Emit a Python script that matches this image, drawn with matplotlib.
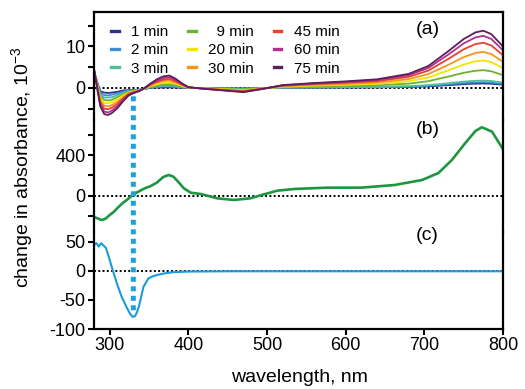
import matplotlib
matplotlib.use("Agg")
import matplotlib.pyplot as plt
from matplotlib.patches import ConnectionPatch

plt.rcParams['font.family'] = ['Liberation Sans', 'DejaVu Sans']
plt.rcParams['mathtext.fontset'] = 'custom'
plt.rcParams['mathtext.rm'] = 'Liberation Sans'
plt.rcParams['mathtext.it'] = 'Liberation Sans'

# ---------------- data ----------------
wl_a = [280, 284, 288, 293, 298, 303, 310, 317, 324, 331, 338, 345, 352, 360, 368, 376, 384, 392, 400,
        420, 445, 470, 495, 520, 560, 600, 640, 680, 705, 730, 750, 765, 775, 785, 800]

labels_a = ["1 min", "2 min", "3 min", "  9 min", "20 min", "30 min", "45 min", "60 min", "75 min"]
colors_a = ["#2e3192", "#3d8fd1", "#4dbfa0", "#6ab42d", "#f2e600", "#f7941d", "#e8412c", "#b22f8e", "#5b1f5e"]

a_1min = [4.0, 1.5, -0.8, -1.1, -1.2, -1.1, -0.9, -0.6, -0.5, -0.5, -0.4, -0.2, 0.05, 0.1, 0.15, 0.15, 0.1, 0.05, 0.0,
          0.0, -0.05, -0.1, 0.0, 0.05, 0.08, 0.11, 0.15, 0.24, 0.4, 0.68, 0.93, 1.05, 1.1, 1.02, 0.8]
a_2min = [4.1, 1.3, -1.2, -1.7, -1.8, -1.6, -1.3, -0.9, -0.6, -0.6, -0.4, -0.2, 0.1, 0.25, 0.35, 0.35, 0.25, 0.15, 0.0,
          0.0, -0.1, -0.15, 0.0, 0.07, 0.12, 0.16, 0.21, 0.34, 0.53, 0.88, 1.18, 1.34, 1.4, 1.3, 1.0]
a_3min = [4.2, 1.1, -1.6, -2.3, -2.3, -2.2, -1.7, -1.2, -0.7, -0.6, -0.5, -0.1, 0.2, 0.4, 0.55, 0.6, 0.45, 0.2, 0.05,
          -0.05, -0.1, -0.2, 0.0, 0.1, 0.16, 0.21, 0.27, 0.44, 0.69, 1.14, 1.53, 1.74, 1.8, 1.69, 1.3]
a_9min = [4.3, 0.9, -2.0, -2.9, -3.0, -2.8, -2.2, -1.5, -0.9, -0.7, -0.5, -0.1, 0.3, 0.6, 0.85, 0.9, 0.65, 0.35, 0.05,
          -0.05, -0.2, -0.35, -0.05, 0.2, 0.37, 0.5, 0.65, 1.05, 1.64, 2.73, 3.66, 4.15, 4.3, 4.03, 3.1]
a_20min = [4.4, 0.7, -2.5, -3.6, -3.7, -3.4, -2.7, -1.8, -1.1, -0.8, -0.5, -0.1, 0.5, 0.9, 1.25, 1.35, 1.0, 0.5, 0.1,
           -0.1, -0.3, -0.5, -0.1, 0.3, 0.58, 0.77, 1.0, 1.63, 2.54, 4.22, 5.66, 6.43, 6.62, 6.24, 4.8]
a_30min = [4.4, 0.5, -3.0, -4.3, -4.4, -4.1, -3.3, -2.2, -1.3, -0.9, -0.6, 0.0, 0.7, 1.3, 1.7, 1.8, 1.3, 0.7, 0.1,
           -0.1, -0.4, -0.65, -0.1, 0.45, 0.76, 1.0, 1.32, 2.14, 3.34, 5.54, 7.43, 8.44, 8.69, 8.19, 6.3]
a_45min = [4.5, 0.3, -3.5, -5.0, -5.1, -4.7, -3.8, -2.5, -1.4, -1.0, -0.6, 0.0, 0.8, 1.5, 2.0, 2.2, 1.6, 0.8, 0.15,
           -0.15, -0.5, -0.8, -0.15, 0.55, 0.95, 1.26, 1.66, 2.69, 4.19, 6.95, 9.32, 10.59, 10.9, 10.27, 7.9]
a_60min = [4.5, 0.1, -4.0, -5.7, -5.9, -5.4, -4.3, -2.9, -1.6, -1.1, -0.7, 0.1, 1.0, 1.8, 2.4, 2.6, 1.9, 1.0, 0.2,
           -0.2, -0.55, -0.9, -0.2, 0.65, 1.1, 1.46, 1.91, 3.09, 4.82, 8.0, 10.74, 12.19, 12.56, 11.83, 9.1]
a_75min = [4.5, 0.0, -4.4, -6.3, -6.5, -6.0, -4.8, -3.2, -1.8, -1.2, -0.7, 0.1, 1.1, 2.1, 2.8, 3.0, 2.2, 1.1, 0.2,
           -0.2, -0.6, -1.0, -0.2, 0.7, 1.2, 1.6, 2.1, 3.4, 5.3, 8.8, 11.8, 13.4, 13.8, 13.0, 10.0]
series_a = [a_1min, a_2min, a_3min, a_9min, a_20min, a_30min, a_45min, a_60min, a_75min]

wl_b = [280, 285, 290, 295, 300, 305, 310, 316, 322, 328, 335, 345, 352, 360, 368, 375, 381, 388, 394, 403,
        416, 437, 458, 479, 492, 513, 535, 577, 620, 662, 697, 718, 735, 752, 765, 773, 786, 800]
val_b = [-210, -225, -240, -225, -190, -160, -120, -75, -40, 0, 35, 75, 95, 130, 185, 205, 188, 130, 75, 30,
         17, -26, -42, -25, 5, 50, 67, 80, 80, 106, 155, 225, 353, 520, 640, 676, 633, 460]

wl_c = [280, 283, 286, 289, 292, 295, 298, 303, 309, 315, 322, 326, 329, 332, 334, 337, 339, 343, 349, 355,
        360, 370, 381, 400, 450, 500, 600, 700, 800]
val_c = [45, 48, 42, 48, 44, 40, 28, 5, -21, -44, -64, -74, -79, -78, -73, -62, -50, -27, -13, -9,
         -7, -4, -2, -1, -0.5, -0.5, -0.5, -0.5, -0.5]

marker_wl = 330

# ---------------- layout ----------------
W, H = 525, 389
fig = plt.figure(figsize=(W / 100, H / 100), dpi=100)
left, right = 94 / W, 503 / W
def box(top_px, bot_px):
    return [left, 1 - bot_px / H, right - left, (bot_px - top_px) / H]

ax_a = fig.add_axes(box(12, 120))
ax_b = fig.add_axes(box(120, 232))
ax_c = fig.add_axes(box(232, 329))

for ax in (ax_a, ax_b, ax_c):
    ax.set_xlim(280, 800)
    for s in ax.spines.values():
        s.set_linewidth(1.6)
    ax.tick_params(axis='both', direction='out', length=4, width=1.5, labelsize=13, pad=2)
    ax.axhline(0, color='black', lw=1.4, ls=(0, (1, 1.2)), zorder=1)
    ax.patch.set_alpha(0)

ax_a.spines['bottom'].set_visible(False)
ax_b.spines['top'].set_visible(False)
ax_b.spines['bottom'].set_visible(False)
ax_c.spines['top'].set_visible(False)
ax_a.tick_params(axis='x', bottom=False, labelbottom=False)
ax_b.tick_params(axis='x', bottom=False, labelbottom=False)

# panel a
for vals, lab, col in zip(series_a, labels_a, colors_a):
    ax_a.plot(wl_a, vals, color=col, lw=1.3, label=lab)
ax_a.set_ylim(-7.71, 18.31)
ax_a.set_yticks([-5, 0, 5, 10, 15])
ax_a.set_yticklabels(["", "0", "", "10", ""])
leg = ax_a.legend(ncol=3, loc='upper left', bbox_to_anchor=(0.02, 0.965), frameon=False,
                  fontsize=11, handlelength=0.5, handletextpad=0.8, columnspacing=1.3,
                  labelspacing=0.28, borderaxespad=0.2)
for h in leg.get_lines():
    h.set_linewidth(2.4)
ax_a.text(704, 14, "(a)", fontsize=14, ha='center', va='center')

# panel b
ax_b.plot(wl_b, val_b, color="#1e9640", lw=1.9)
ax_b.set_ylim(-358, 748)
ax_b.set_yticks([-200, 0, 200, 400, 600])
ax_b.set_yticklabels(["", "0", "", "400", ""])
ax_b.text(704, 650, "(b)", fontsize=14, ha='center', va='center')

# panel c
ax_c.plot(wl_c, val_c, color="#1b9bd7", lw=1.5)
ax_c.set_ylim(-100, 67.2)
ax_c.set_yticks([-100, -50, 0, 50])
ax_c.set_yticklabels(["-100", "-50", "0", "50"])
ax_c.set_xticks([300, 400, 500, 600, 700, 800])
ax_c.text(704, 62, "(c)", fontsize=14, ha='center', va='center')

# vertical marker line across panels
con = ConnectionPatch(xyA=(marker_wl, -2.0), coordsA=ax_a.transData,
                      xyB=(marker_wl, -70), coordsB=ax_c.transData,
                      color="#1ba1dc", lw=3.6, linestyle=(0, (1, 0.9)), capstyle='butt', zorder=5)
fig.add_artist(con)

fig.text(22 / W, 1 - 167 / H, "change in absorbance, 10$^{-3}$", rotation=90,
         ha='center', va='center', fontsize=14)
fig.text(299 / W, 1 - 378 / H, "wavelength, nm", ha='center', va='center', fontsize=14)

fig.savefig("out.png", dpi=100, facecolor='white')
